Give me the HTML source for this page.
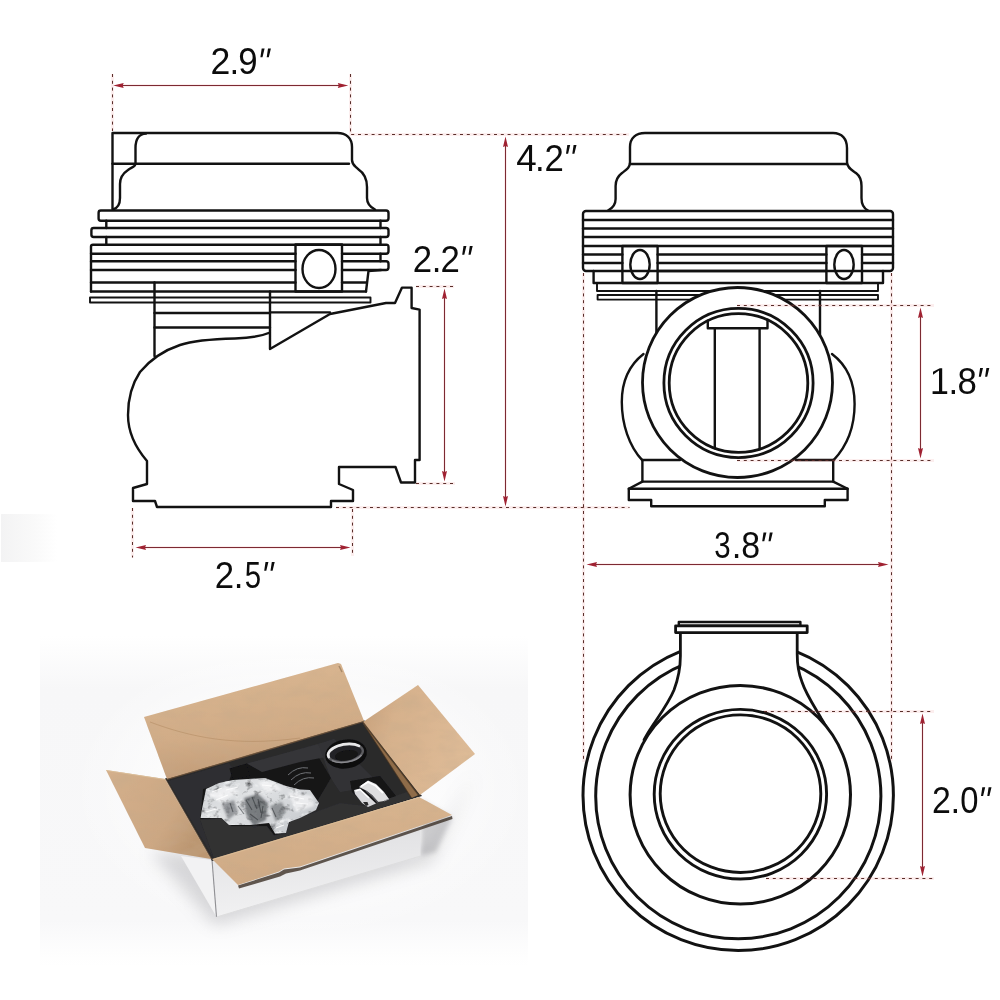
<!DOCTYPE html>
<html>
<head>
<meta charset="utf-8">
<title>Wastegate dimensions</title>
<style>
html,body{margin:0;padding:0;background:#fff;}
body{width:1000px;height:1000px;overflow:hidden;font-family:"Liberation Sans",sans-serif;}
svg{display:block;position:absolute;left:0;top:0;}
.k{fill:none;stroke:#121212;stroke-width:2.4;stroke-linejoin:round;stroke-linecap:round;}
.k15{fill:none;stroke:#121212;stroke-width:1.9;stroke-linejoin:round;stroke-linecap:round;}
.kw{fill:#fff;stroke:#121212;stroke-width:2.4;stroke-linejoin:round;stroke-linecap:round;}
.r{fill:none;stroke:#7c2a32;stroke-width:1;}
.d{fill:none;stroke:#5a2e2a;stroke-width:1;stroke-dasharray:3 3.8;}
.a{fill:#a02232;stroke:none;}
.h{fill:none;stroke:#e05a5a;stroke-opacity:0.10;stroke-width:3;}
.t{font-family:"Liberation Sans",sans-serif;font-size:37px;fill:#0c0c0c;}
</style>
</head>
<body>
<svg width="1000" height="1000" viewBox="0 0 1000 1000">
<rect x="0" y="0" width="1000" height="1000" fill="#ffffff"/>
<g id="photo">
<defs>
<filter id="soft" x="-5%" y="-5%" width="110%" height="110%"><feGaussianBlur stdDeviation="0.5"/></filter>
<filter id="sh" x="-30%" y="-30%" width="160%" height="160%"><feGaussianBlur stdDeviation="8"/></filter>
<filter id="b1" x="-20%" y="-20%" width="140%" height="140%"><feGaussianBlur stdDeviation="1.2"/></filter>
<filter id="b2" x="-20%" y="-20%" width="140%" height="140%"><feGaussianBlur stdDeviation="2.5"/></filter>
<filter id="wrapf" x="-10%" y="-10%" width="120%" height="120%">
<feTurbulence type="fractalNoise" baseFrequency="0.13 0.16" numOctaves="3" seed="11" result="n"/>
<feColorMatrix in="n" type="matrix" values="0 0 0 0 0  0 0 0 0 0  0 0 0 0 0  3.0 0 0 0 -1.62" result="a"/>
<feFlood flood-color="#44474b" result="c"/>
<feComposite in="c" in2="a" operator="in" result="dk"/>
<feComposite in="dk" in2="SourceGraphic" operator="in" result="dk2"/>
<feColorMatrix in="n" type="matrix" values="0 0 0 0 0  0 0 0 0 0  0 0 0 0 0  0 -3.4 0 0 1.35" result="a2"/>
<feFlood flood-color="#f4f5f6" result="c2"/>
<feComposite in="c2" in2="a2" operator="in" result="lt"/>
<feComposite in="lt" in2="SourceGraphic" operator="in" result="lt2"/>
<feMerge><feMergeNode in="SourceGraphic"/><feMergeNode in="lt2"/><feMergeNode in="dk2"/></feMerge>
<feGaussianBlur stdDeviation="0.45"/>
</filter>
<filter id="paper" x="0" y="0" width="100%" height="100%">
<feTurbulence type="fractalNoise" baseFrequency="0.045 0.09" numOctaves="3" seed="5" result="n"/>
<feColorMatrix in="n" type="matrix" values="0 0 0 0 0.55  0 0 0 0 0.40  0 0 0 0 0.26  0.7 0 0 0 -0.26" result="a"/>
<feComposite in="a" in2="SourceGraphic" operator="in" result="t"/>
<feMerge><feMergeNode in="SourceGraphic"/><feMergeNode in="t"/></feMerge>
</filter>
<linearGradient id="bgv" x1="0" y1="0" x2="0" y2="1">
<stop offset="0" stop-color="#f7f7f8" stop-opacity="0"/>
<stop offset="0.16" stop-color="#f7f7f8" stop-opacity="1"/>
<stop offset="0.86" stop-color="#f8f8f9" stop-opacity="1"/>
<stop offset="1" stop-color="#f9f9fa" stop-opacity="0"/>
</linearGradient>
<radialGradient id="glow" cx="0.5" cy="0.5" r="0.5">
<stop offset="0" stop-color="#fff" stop-opacity="0.9"/><stop offset="0.6" stop-color="#fff" stop-opacity="0.55"/><stop offset="1" stop-color="#fff" stop-opacity="0"/>
</radialGradient>
<linearGradient id="sm" x1="0" y1="0" x2="1" y2="0">
<stop offset="0" stop-color="#f0f0f1"/><stop offset="0.6" stop-color="#f8f8f8"/><stop offset="1" stop-color="#ffffff"/>
</linearGradient>
<linearGradient id="gback" x1="0.1" y1="0" x2="0.3" y2="1">
<stop offset="0" stop-color="#dab792"/><stop offset="0.65" stop-color="#d1ac87"/><stop offset="1" stop-color="#c29c78"/>
</linearGradient>
<linearGradient id="gleft" x1="0" y1="0" x2="1" y2="0.5">
<stop offset="0" stop-color="#d4b08c"/><stop offset="0.7" stop-color="#cca783"/><stop offset="1" stop-color="#bb9671"/>
</linearGradient>
<linearGradient id="gright" x1="0" y1="0.3" x2="1" y2="0.6">
<stop offset="0" stop-color="#c9a37e"/><stop offset="0.25" stop-color="#d6b18c"/><stop offset="1" stop-color="#dfbc98"/>
</linearGradient>
<linearGradient id="gfront" x1="0" y1="0" x2="0.12" y2="1">
<stop offset="0" stop-color="#d9b590"/><stop offset="1" stop-color="#cfaa85"/>
</linearGradient>
<linearGradient id="gface" x1="0" y1="0" x2="0.1" y2="1">
<stop offset="0" stop-color="#cfcfd2"/><stop offset="0.45" stop-color="#e4e4e6"/><stop offset="1" stop-color="#f1f1f2"/>
</linearGradient>
<linearGradient id="gwrap" x1="0" y1="0" x2="1" y2="0.6">
<stop offset="0" stop-color="#cfd2d5"/><stop offset="0.45" stop-color="#e0e2e4"/><stop offset="1" stop-color="#c9ccd0"/>
</linearGradient>
<linearGradient id="gring" x1="0" y1="0" x2="1" y2="1">
<stop offset="0" stop-color="#f4f4f4"/><stop offset="0.45" stop-color="#8f8f92"/><stop offset="1" stop-color="#e6e6e6"/>
</linearGradient>
<linearGradient id="gclamp" x1="0" y1="0" x2="0" y2="1">
<stop offset="0" stop-color="#fbfbfb"/><stop offset="0.5" stop-color="#d9d9dc"/><stop offset="1" stop-color="#a9a9ad"/>
</linearGradient>
</defs>
<!-- faint smudge top-left -->
<rect x="1" y="514" width="56" height="48" fill="url(#sm)" opacity="0.8"/>
<!-- photo backdrop -->
<rect x="40" y="636" width="488" height="330" fill="url(#bgv)"/>
<ellipse cx="300" cy="790" rx="230" ry="150" fill="url(#glow)"/>
<!-- ground shadow -->
<path d="M150,852 L215,925 L432,862 L476,772 L430,850 Z" fill="#8f8f94" opacity="0.33" filter="url(#sh)"/>
<path d="M421,800 L452,818 L436,852 L421,856 Z" fill="#77777c" opacity="0.35" filter="url(#b2)"/>
<g filter="url(#soft)">
<!-- white box body -->
<path d="M181,856 L212,860 L216.5,917 Z" fill="#f2f2f3"/>
<path d="M212,858 L420,797 L420.5,856 L216.5,917 Z" fill="url(#gface)"/>
<path d="M212,860 L216.5,917" stroke="#8f8f93" stroke-width="1.1" fill="none"/>
<path d="M216.5,917 L420.5,856" stroke="#dededf" stroke-width="1" fill="none"/>
<!-- foam -->
<path d="M165,778.5 L364,720 L422,796 L212,861 Z" fill="#2a2a2c"/>
<!-- pocket (big, wrap) interior dark -->
<path d="M203,789 L229,781 L233,768 L247,763.5 L262,771 L300,760 L318,756 L331,778 L318,800 L290,820 L286,833 L274,835 L267,826 L232,826 L222,818 L200,819 Z" fill="#171718"/>
<!-- raised blocks (slightly lighter top faces) -->
<path d="M247,763.5 L318,744 L326,757 L300,762 L262,772 Z" fill="#353538"/>
<path d="M318,744 L334,739 L392,797 L366,806 L352,790 L340,792 L331,778 Z" fill="#333336"/>
<path d="M200,820 L222,818.5 L232,826.5 L267,826.5 L274,835.5 L286,833.5 L290,821 L318,811 L340,803 L366,806 L392,797 L410,791 L417,797 L214,859 Z" fill="#303032"/>
<path d="M168,781 L229,763 L233,769 L229,781 L203,789 L200,820 L214,859 Z" fill="#2e2e30"/>
<!-- notch -->
<path d="M229.5,768.5 L247,763.5 L250,776 L233,780.5 Z" fill="#121213"/>
<!-- clamp pocket -->
<path d="M350,781 L380,776 L396,796 L366,806 L352,792 Z" fill="#131314"/>
<!-- ring pocket -->
<ellipse cx="346" cy="754" rx="21" ry="14.5" fill="#0f0f10" transform="rotate(-8 346 754)"/>
<g transform="rotate(-9 345.5 753)">
<ellipse cx="345.5" cy="753" rx="17.5" ry="8.6" fill="#232325" stroke="#5c5c60" stroke-width="2.4"/>
<path d="M328.3,754.5 A17.5,8.6 0 0 1 360,748" fill="none" stroke="#e9e9ea" stroke-width="2.6" stroke-linecap="round"/>
<path d="M331,758.5 A17.5,8.6 0 0 0 361,757.5" fill="none" stroke="#8a8a8e" stroke-width="1.4"/>
<ellipse cx="346" cy="755.5" rx="11.5" ry="5.2" fill="#121213"/>
</g>
<!-- spring hint -->
<path d="M288,775 Q297,766 308,768 M291,780 Q300,771 311,773 M294,785 Q303,776 314,778" stroke="#6f7174" stroke-width="1" fill="none"/>
<!-- clamp (silver) -->
<path d="M354,790 L360,788.5 L367,795 L376,803.5 L368,807 L362,803 L355,794 Z" fill="#d9d9dc"/>
<path d="M355.5,791 L360,789.5 L369,798" stroke="#ffffff" stroke-width="1.4" fill="none"/>
<path d="M363,802 l3,4 l2.5,-1 l-1,-3 z" fill="#2a2a2c"/>
<path d="M359,787 L368,780.5 L376,784 L384,792 L389,799 L384,801 L378,802 L372,795 L365,790 Z" fill="#dededf"/>
<path d="M361,786.5 L368,782 L376,786 L383,793" stroke="#ffffff" stroke-width="1.8" fill="none"/>
<path d="M366,791 L372,796 L378,802.5" stroke="#55555a" stroke-width="1.3" fill="none"/>
<path d="M384,801 L389,799" stroke="#9a9a9e" stroke-width="1" fill="none"/>
<!-- wrap -->
<g filter="url(#wrapf)">
<path d="M200.6,818 L202,809 L206,789 L219,783 L233,780 L265,778 L286,786 L300,789.5 L310,790 L319,803 L316,810 L300,818 L289,822 L286,833 L275,833.5 L269,823 L250,825 L229,825 L221.5,818 Z" fill="url(#gwrap)"/>
</g>
<g filter="url(#b1)">
<path d="M244,798 L258,794 L268,803 L266,820 L254,826 L246,814 Z" fill="#3c3f43" opacity="0.62"/>
<path d="M222,804 L234,800 L238,812 L228,820 Z" fill="#5a5d61" opacity="0.55"/>
<path d="M270,806 L282,802 L286,812 L276,822 Z" fill="#4a4d51" opacity="0.5"/>
<path d="M208,794 L226,786 L240,792 L220,802 Z M288,792 L312,796 L314,806 L296,812 Z M258,782 L274,782 L282,790 L266,792 Z" fill="#f6f7f8" opacity="0.7"/>
</g>
<path d="M246,800 l6,10 M252,797 l5,12 M258,799 l3,14 M263,806 l-2,12 M250,814 l8,6 M238,806 l6,8 M272,808 l4,9 M230,803 l3,9" stroke="#2c2f33" stroke-width="1.1" opacity="0.55" fill="none"/>
<path d="M212,792 l10,-4 M216,800 l12,-5 M226,790 l12,-3 M290,796 l14,3 M296,803 l12,1 M262,785 l10,1 M276,828 l8,-3 M206,812 l10,-3" stroke="#ffffff" stroke-width="1.2" opacity="0.8" fill="none"/>
<path d="M362.5,721.5 L418.5,795 L411.5,798 L364,725 Z" fill="#8f6c48"/>
<path d="M364,725 L411.5,798" stroke="#3a2c1e" stroke-width="1.2" opacity="0.7" fill="none"/>
<!-- back flap -->
<path filter="url(#paper)" d="M144,717 L338,663 L341,664 L364,721 L167,779 Z" fill="url(#gback)"/>
<path d="M167,779.5 L364,721.5" stroke="#7f5e3c" stroke-width="1.3" opacity="0.65" fill="none"/>
<path d="M150,722 C190,737 235,747 300,738" stroke="#b08a60" stroke-width="0.9" opacity="0.6" fill="none"/>
<path d="M339,666 l3,6" stroke="#8b6f52" stroke-width="1.5" opacity="0.6" fill="none"/>
<!-- left flap -->
<path filter="url(#paper)" d="M106,770 L165,779 L211,859 L145,848 Z" fill="url(#gleft)"/>
<path d="M165.5,779 L211.5,859" stroke="#8f6d48" stroke-width="1" opacity="0.55" fill="none"/>
<path d="M106.5,770.5 L165,779.5" stroke="#dcc09b" stroke-width="1" opacity="0.8" fill="none"/>
<!-- right flap -->
<path filter="url(#paper)" d="M363,722 L418,685 L475,754 L420,795 Z" fill="url(#gright)"/>
<path d="M363,722.5 L419,795.5" stroke="#4a3826" stroke-width="1.6" opacity="0.75" fill="none"/>
<!-- front flap -->
<path d="M238,885.5 L279,872.5 L284,869.5 L300,867.5 L452,816 L452.5,819 L300,870.5 L286,873.5 L280,876.5 L239,888.5 Z" fill="#3b3027" opacity="0.8"/>
<path filter="url(#paper)" d="M212,859 L419,797 L452,815 L300,866.5 L284,868.5 L279,871.5 L238,885 Z" fill="url(#gfront)"/>
<path d="M213,859.5 L419,797.5" stroke="#dec09a" stroke-width="1" opacity="0.75" fill="none"/>
</g>
</g>

<g id="left">
<!-- cap -->
<path class="k" d="M112.5,209 L112.5,133 L337.5,133 C346,133 352,138 352,147 L352,160 C352,165 355,166 358,169 C364,173 367,179 367,187 L367,198 C367,204 370,207 375,209.5"/>
<path class="k" d="M112.5,163.8 L349,163.8"/>
<path class="k" d="M146,133.6 C138,134 135.5,140 135.5,148 L135.5,163.5 C135.5,167 131,167.5 128,170 C122,174 120,178 120,184 L120,198 C120,204 118,208 113,209.5"/>
<!-- fins -->
<path class="k" d="M100.8,210.5 L386,210.5 Q388.5,210.5 388.5,213 L388.5,218.2 Q388.5,220.7 386,220.7 L100.8,220.7 Q98.6,220.7 98.6,218.5 L98.6,212.7 Q98.6,210.5 100.8,210.5 Z"/>
<path class="k" d="M106.3,220.7 L106.3,228 M380.5,220.7 L380.5,228"/>
<path class="k" d="M93.6,228 L386,228 Q388.5,228 388.5,230.5 L388.5,234.5 Q388.5,237 386,237 L93.6,237 Q91.4,237 91.4,234.8 L91.4,230.2 Q91.4,228 93.6,228 Z"/>
<path class="k" d="M106.3,237 L106.3,244.7 M380.5,237 L380.5,244.7"/>
<path class="k" d="M91,291.5 L91,246.5 Q91,244.7 93,244.7 L386,244.7 Q388.5,244.5 388.5,247 L388.5,251.2 Q388.5,253.7 386,253.7 L342,253.7"/>
<path class="k" d="M380.5,253.7 L380.5,261.3"/>
<path class="k" d="M342,261.3 L386,261.3 Q388.5,261.3 388.5,263.8 L388.5,267.5 Q388.5,270 386,270 L342,270"/>
<path class="k" d="M381,270 L368.5,271 L366,291.5"/>
<path class="k" d="M91,253.7 L295.5,253.7 M91,261.3 L295.5,261.3 M91,270 L295.5,270 M91,282.5 L295.5,282.5 M342,282.5 L366.5,282.5 M91,291.5 L366,291.5"/>
<rect class="k" x="295.5" y="244.5" width="46.5" height="47"/>
<ellipse class="k" cx="319" cy="269" rx="16.5" ry="19"/>
<!-- thin plate -->
<rect class="k15" x="90" y="297.5" width="280.5" height="5"/>
<!-- neck -->
<path class="k" d="M154.5,282.5 L154.5,356 M270,291.5 L270,349 L330,314 L386,303 L395,303 L402,287.6 L411.6,287.6 L411.6,308 L419.6,309.6 L419.6,460 L415,460 L415,482.5 L401,482.5 L395.5,467 L339,467 L339,484 L353,490 L353,501 L331,501 L331,507 L157,507 L155,501 L133,501 L133,488 L147,484 L147,461 C135,447 128,432 128,415 C128,400 132,384 140,372 C150,360 165,350 180,345 C195,340 215,339 235,338.5 C250,338 262,336 270,332.5"/>
<path class="k" d="M154.5,313 L270,313 M154.5,327.5 L270,327.5 M270,312.4 L330,312.4"/>
</g>
<g id="rtop">
<!-- cap -->
<path class="k" d="M608,210.5 C613,208 615.6,205 615.6,199 L615.6,186 C615.6,180 618,176 622,173 C626,170 630,168 630,162 L630,147 C630,138 636,133 645,133 L833,133 C842,133 847,139 847,148 L847,162 C847,168 852,170 856,173 C860,176 861.5,180 861.5,186 L861.5,198 C861.5,204 863,208 868,210.5"/>
<path class="k" d="M630,164 L847,164"/>
<!-- fin block -->
<rect class="k" x="583" y="211" width="310" height="60" rx="3" ry="3"/>
<path class="k" d="M583,220 L893,220 M583,228.5 L893,228.5 M583,237 L893,237 M583,246 L893,246"/>
<path class="k" d="M583,254.5 L622.4,254.5 M583,263 L622.4,263 M657.6,254.5 L826.4,254.5 M657.6,263 L826.4,263 M657.6,271 L826.4,271 M862,254.5 L893,254.5 M862,263 L893,263"/>
<rect class="k" x="622.4" y="246" width="35.2" height="37"/>
<rect class="k" x="826.4" y="246" width="35.6" height="37"/>
<ellipse class="k" cx="640" cy="264.5" rx="9.7" ry="14.5"/>
<ellipse class="k" cx="844" cy="264.5" rx="9.7" ry="14.5"/>
<path class="k" d="M593.6,271 L593.6,283 L883,283 L883,271"/>
<path class="k15" d="M597,283 L597,291 L878,291 L878,283"/>
<rect class="k15" x="597.6" y="295" width="280.4" height="4.6"/>
<path class="k" d="M656.4,291 L656.4,340 M820,291 L820,340"/>
<!-- side bulges -->
<path class="k" d="M643.5,354 C628,366 621.8,384 621.8,402 C621.8,424 629,446 642.4,460.4"/>
<path class="k" d="M832,354 C848,366 854.6,384 854.6,404 C854.6,426 847,446 833.4,460.4"/>
<!-- lower body + flange -->
<path class="k" d="M642.4,460 L680,460 M796,460 L833.2,460"/>
<path class="k" d="M642.4,460 L642.4,481.6 L833.2,481.6 L833.2,460"/>
<path class="k" d="M642.4,481.6 L628.8,488.8 L628.8,500 L651.2,500 L651.2,506.2 L824.8,506.2 L824.8,500 L847.6,500 L847.6,488.8 L833.2,481.6"/>
<path class="k" d="M628.8,488.8 L847.6,488.8" style="stroke-width:2.4"/>
<!-- big circle -->
<circle class="kw" cx="737.5" cy="382.5" r="95" style="stroke-width:2.8"/>
<circle class="k" cx="738.5" cy="383" r="74.6" style="stroke-width:2.8"/>
<circle class="k" cx="738.5" cy="383" r="69.3" style="stroke-width:2.8"/>
<!-- inside valve -->
<path class="k" d="M707.8,320.7 L707.8,328.2 L767.5,328.2 L767.5,319.8"/>
<path class="k" d="M714.8,328.2 L714.8,448.3 M759.6,328.2 L759.6,449.2"/>
</g>
<g id="rbot">
<circle class="k" cx="738.2" cy="795.4" r="155.2" style="stroke-width:3"/>
<circle class="k" cx="738.3" cy="796.2" r="142.6" style="stroke-width:3"/>
<!-- neck -->
<path d="M680.4,632 L680.4,656 C680.4,668 678.5,678 674,690 C669,702 661,713 653,725 C649,731 646.5,735 644,740 L739,800 L833,740 C830,734 826,726 821,718 C814,706 806,694 802,682 C798,672 797.2,664 797.2,654 L797.2,632 Z" fill="#fff" stroke="none"/>
<path class="k" style="stroke-width:2.8" d="M680.4,632 L680.4,656 C680.4,668 678.5,678 674,690 C669,702 661,713 653,725 C649,731 646.5,735 644,740"/>
<path class="k" style="stroke-width:2.8" d="M797.2,632 L797.2,654 C797.2,664 798,672 802,682 C806,694 814,706 821,718 C826,726 830,734 833,740"/>
<!-- top flange -->
<rect class="kw" x="678.8" y="622" width="121.6" height="3.8" style="stroke-width:2.4"/>
<rect class="kw" x="675.6" y="625.8" width="131.6" height="6.8" style="stroke-width:2.8"/>
<ellipse class="kw" cx="740.3" cy="794.8" rx="110.2" ry="109.3" style="stroke-width:3"/>
<ellipse class="k" cx="740.4" cy="794.2" rx="86.2" ry="84.8" style="stroke-width:2.9"/>
<ellipse class="k" cx="740.5" cy="793.7" rx="80.3" ry="78.8" style="stroke-width:2.9"/>
</g>
<g id="dims">
<path class="h" d="M112.5,74 L112.5,131 M350.5,74 L350.5,134.5 L629,134.5"/>
<path class="h" d="M118,85.5 L344,85.5"/>
<path class="h" d="M505.5,142 L505.5,501"/>
<path class="h" d="M336,507.5 L629.5,507.5"/>
<path class="h" d="M416,286.5 L454,286.5 M416,483.5 L455,483.5"/>
<path class="h" d="M444.5,294 L444.5,476"/>
<path class="h" d="M132.5,508 L132.5,557.5 M352.5,509 L352.5,556"/>
<path class="h" d="M141,547.5 L345,547.5"/>
<path class="h" d="M583.5,273 L583.5,762 M891.5,273 L891.5,761"/>
<path class="h" d="M592,564.5 L883,564.5"/>
<path class="h" d="M737,305.5 L934,305.5 M737,460.5 L934,460.5"/>
<path class="h" d="M920.5,313 L920.5,453"/>
<path class="h" d="M764,711.5 L934,711.5 M766,878.5 L934,878.5"/>
<path class="h" d="M922.5,719 L922.5,871"/>
<path class="d" d="M112.5,74 L112.5,131 M350.5,74 L350.5,134.5 L629,134.5"/>
<path class="r" d="M118,85.5 L344,85.5"/><path class="a" d="M113.2,85.5 L123.7,83.0 L122.7,85.5 L123.7,88.0 Z"/><path class="a" d="M348.3,85.5 L337.8,83.0 L338.8,85.5 L337.8,88.0 Z"/>
<path class="r" d="M505.5,142 L505.5,501"/><path class="a" d="M505.5,136.5 L503.0,147.0 L505.5,146.0 L508.0,147.0 Z"/><path class="a" d="M505.5,506.5 L503.0,496.0 L505.5,497.0 L508.0,496.0 Z"/>
<path class="d" d="M336,507.5 L629.5,507.5"/>
<path class="d" d="M416,286.5 L454,286.5 M416,483.5 L455,483.5"/>
<path class="r" d="M444.5,294 L444.5,476"/><path class="a" d="M444.5,288.5 L442.0,299.0 L444.5,298.0 L447.0,299.0 Z"/><path class="a" d="M444.5,481.5 L442.0,471.0 L444.5,472.0 L447.0,471.0 Z"/>
<path class="d" d="M132.5,508 L132.5,557.5 M352.5,509 L352.5,556"/>
<path class="r" d="M141,547.5 L345,547.5"/><path class="a" d="M135.5,547.5 L146.0,545.0 L145.0,547.5 L146.0,550.0 Z"/><path class="a" d="M350.5,547.5 L340.0,545.0 L341.0,547.5 L340.0,550.0 Z"/>
<path class="d" d="M583.5,273 L583.5,762 M891.5,273 L891.5,761"/>
<path class="r" d="M592,564.5 L883,564.5"/><path class="a" d="M586.5,564.5 L597.0,562.0 L596.0,564.5 L597.0,567.0 Z"/><path class="a" d="M888.5,564.5 L878.0,562.0 L879.0,564.5 L878.0,567.0 Z"/>
<path class="d" d="M737,305.5 L934,305.5 M737,460.5 L934,460.5"/>
<path class="r" d="M920.5,313 L920.5,453"/><path class="a" d="M920.5,307.5 L918.0,318.0 L920.5,317.0 L923.0,318.0 Z"/><path class="a" d="M920.5,458.5 L918.0,448.0 L920.5,449.0 L923.0,448.0 Z"/>
<path class="d" d="M764,711.5 L934,711.5 M766,878.5 L934,878.5"/>
<path class="r" d="M922.5,719 L922.5,871"/><path class="a" d="M922.5,713.5 L920.0,724.0 L922.5,723.0 L925.0,724.0 Z"/><path class="a" d="M922.5,876.5 L920.0,866.0 L922.5,867.0 L925.0,866.0 Z"/>
</g>
<g id="text" opacity="0.999">
<text class="t" transform="translate(210.55,74.4) scale(0.963,1)">2</text>
<text class="t" transform="translate(229.60,74.4) scale(0.940,1)">.</text>
<text class="t" transform="translate(238.20,74.4) scale(0.940,1)">9</text>
<path d="M261.7,48.400000000000006 L264.6,48.400000000000006 L262.5,57.2 L260.4,57.2 Z M268.0,48.400000000000006 L270.9,48.400000000000006 L268.8,57.2 L266.7,57.2 Z" fill="#0c0c0c"/>
<text class="t" transform="translate(516.14,171) scale(0.995,1)">4</text>
<text class="t" transform="translate(535.00,171) scale(0.940,1)">.</text>
<text class="t" transform="translate(544.40,171) scale(0.940,1)">2</text>
<path d="M567.3,145 L570.2,145 L568.1,153.8 L566.0,153.8 Z M573.6,145 L576.5,145 L574.4,153.8 L572.3,153.8 Z" fill="#0c0c0c"/>
<text class="t" transform="translate(412.80,272) scale(0.940,1)">2</text>
<text class="t" transform="translate(431.80,272) scale(0.940,1)">.</text>
<text class="t" transform="translate(440.40,272) scale(0.940,1)">2</text>
<path d="M463.5,246 L466.4,246 L464.3,254.8 L462.2,254.8 Z M469.8,246 L472.7,246 L470.6,254.8 L468.5,254.8 Z" fill="#0c0c0c"/>
<text class="t" transform="translate(214.80,588) scale(0.940,1)">2</text>
<text class="t" transform="translate(233.80,588) scale(0.940,1)">.</text>
<text class="t" transform="translate(244.75,588) scale(0.796,1)">5</text>
<path d="M265.5,562 L268.4,562 L266.3,570.8 L264.2,570.8 Z M271.8,562 L274.7,562 L272.6,570.8 L270.5,570.8 Z" fill="#0c0c0c"/>
<text class="t" transform="translate(714.15,558.4) scale(0.796,1)">3</text>
<text class="t" transform="translate(731.80,558.4) scale(0.940,1)">.</text>
<text class="t" transform="translate(741.25,558.4) scale(0.916,1)">8</text>
<path d="M763.5,532.4 L766.4,532.4 L764.3,541.1999999999999 L762.2,541.1999999999999 Z M769.8,532.4 L772.7,532.4 L770.6,541.1999999999999 L768.5,541.1999999999999 Z" fill="#0c0c0c"/>
<path fill="#0c0c0c" d="M939.0,370.59999999999997 L933.0,374.8 L933.0,371.8 L939.8,368.2 L942.1999999999999,368.2 L942.1999999999999,391.2 L947.1999999999999,391.2 L947.1999999999999,394 L932.6,394 L932.6,391.2 L939.0,391.2 Z"/>
<text class="t" transform="translate(948.60,394) scale(0.940,1)">.</text>
<text class="t" transform="translate(957.60,394) scale(0.940,1)">8</text>
<path d="M980.1,368 L983.0,368 L980.9,376.8 L978.8,376.8 Z M986.4,368 L989.3,368 L987.2,376.8 L985.1,376.8 Z" fill="#0c0c0c"/>
<text class="t" transform="translate(932.05,813.2) scale(0.916,1)">2</text>
<text class="t" transform="translate(950.60,813.2) scale(0.940,1)">.</text>
<text class="t" transform="translate(960.26,813.2) scale(0.885,1)">0</text>
<path d="M982.3,787.2 L985.2,787.2 L983.1,796.0 L981.0,796.0 Z M988.6,787.2 L991.5,787.2 L989.4,796.0 L987.3,796.0 Z" fill="#0c0c0c"/>
</g>
</svg>
</body>
</html>
